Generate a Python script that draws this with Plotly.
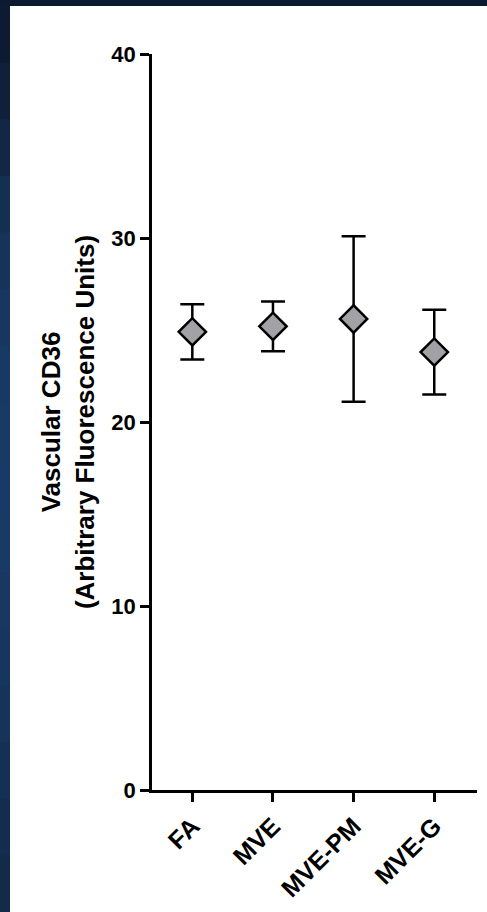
import plotly.graph_objects as go

# Vascular CD36 per diet group: mean with error (SEM)
groups = ["FA", "MVE", "MVE-PM", "MVE-G"]
means = [24.9, 25.2, 25.6, 23.8]
errors = [1.5, 1.35, 4.5, 2.3]
y_ticks = [0, 10, 20, 30, 40]

W, H = 487, 912
L, R, T, B = 152, 10, 54, 122
plot_w = W - L - R
plot_h = H - T - B


def px_x(p):
    return (p - L) / plot_w


def px_y(p):
    return (H - B - p) / plot_h


FONT = "Arial, Liberation Sans, sans-serif"

fig = go.Figure()
fig.add_trace(go.Scatter(
    x=groups,
    y=means,
    mode="markers",
    marker=dict(symbol="diamond", size=21, color="#a2a2a6",
                line=dict(color="black", width=2.5)),
    error_y=dict(type="data", array=errors, visible=True,
                 color="black", thickness=2.5, width=12),
    showlegend=False,
))

# white slide panel framed by a dark blue border with a vertical gradient
shapes = [dict(type="rect", xref="paper", yref="paper", layer="below",
               x0=px_x(10), x1=px_x(W + 5), y0=px_y(H + 5), y1=px_y(6),
               fillcolor="white", line=dict(width=0))]
band_cols = ["#0c1b32", "#0e203b", "#112745", "#14304f", "#163459", "#17375f",
             "#183963", "#193a65", "#193a66", "#193a65", "#183862", "#17365e",
             "#163359", "#153053", "#142d4e", "#132a49"]
n = len(band_cols)
for i, c in enumerate(band_cols):
    y0p = 6 + i * (H - 6) / n
    y1p = 6 + (i + 1) * (H - 6) / n
    shapes.append(dict(type="rect", xref="paper", yref="paper", layer="below",
                       x0=px_x(-5), x1=px_x(10), y0=px_y(y1p + 1), y1=px_y(y0p),
                       fillcolor=c, line=dict(width=0)))

fig.update_layout(
    width=W, height=H,
    margin=dict(l=L, r=R, t=T, b=B, autoexpand=False),
    paper_bgcolor="#0b1a30",
    plot_bgcolor="white",
    shapes=shapes,
    font=dict(family=FONT, color="black"),
    xaxis=dict(
        type="category", range=[-0.5, 3.53],
        showline=True, linecolor="black", linewidth=2.5,
        ticks="outside", ticklen=9, tickwidth=2.5, tickcolor="black",
        tickangle=-45, showgrid=False, zeroline=False,
        tickfont=dict(family=FONT, size=25, weight="bold", color="black"),
    ),
    yaxis=dict(
        range=[0, 40], tickvals=y_ticks,
        showline=True, linecolor="black", linewidth=2.5,
        ticks="outside", ticklen=9, tickwidth=2.5, tickcolor="black",
        showgrid=False, zeroline=False,
        tickfont=dict(family=FONT, size=22, weight="bold", color="black"),
        title=dict(text="Vascular CD36<br>(Arbitrary Fluorescence Units)",
                   font=dict(family=FONT, size=26, weight="bold", color="black"),
                   standoff=10),
    ),
)

fig.write_html("out.html")
